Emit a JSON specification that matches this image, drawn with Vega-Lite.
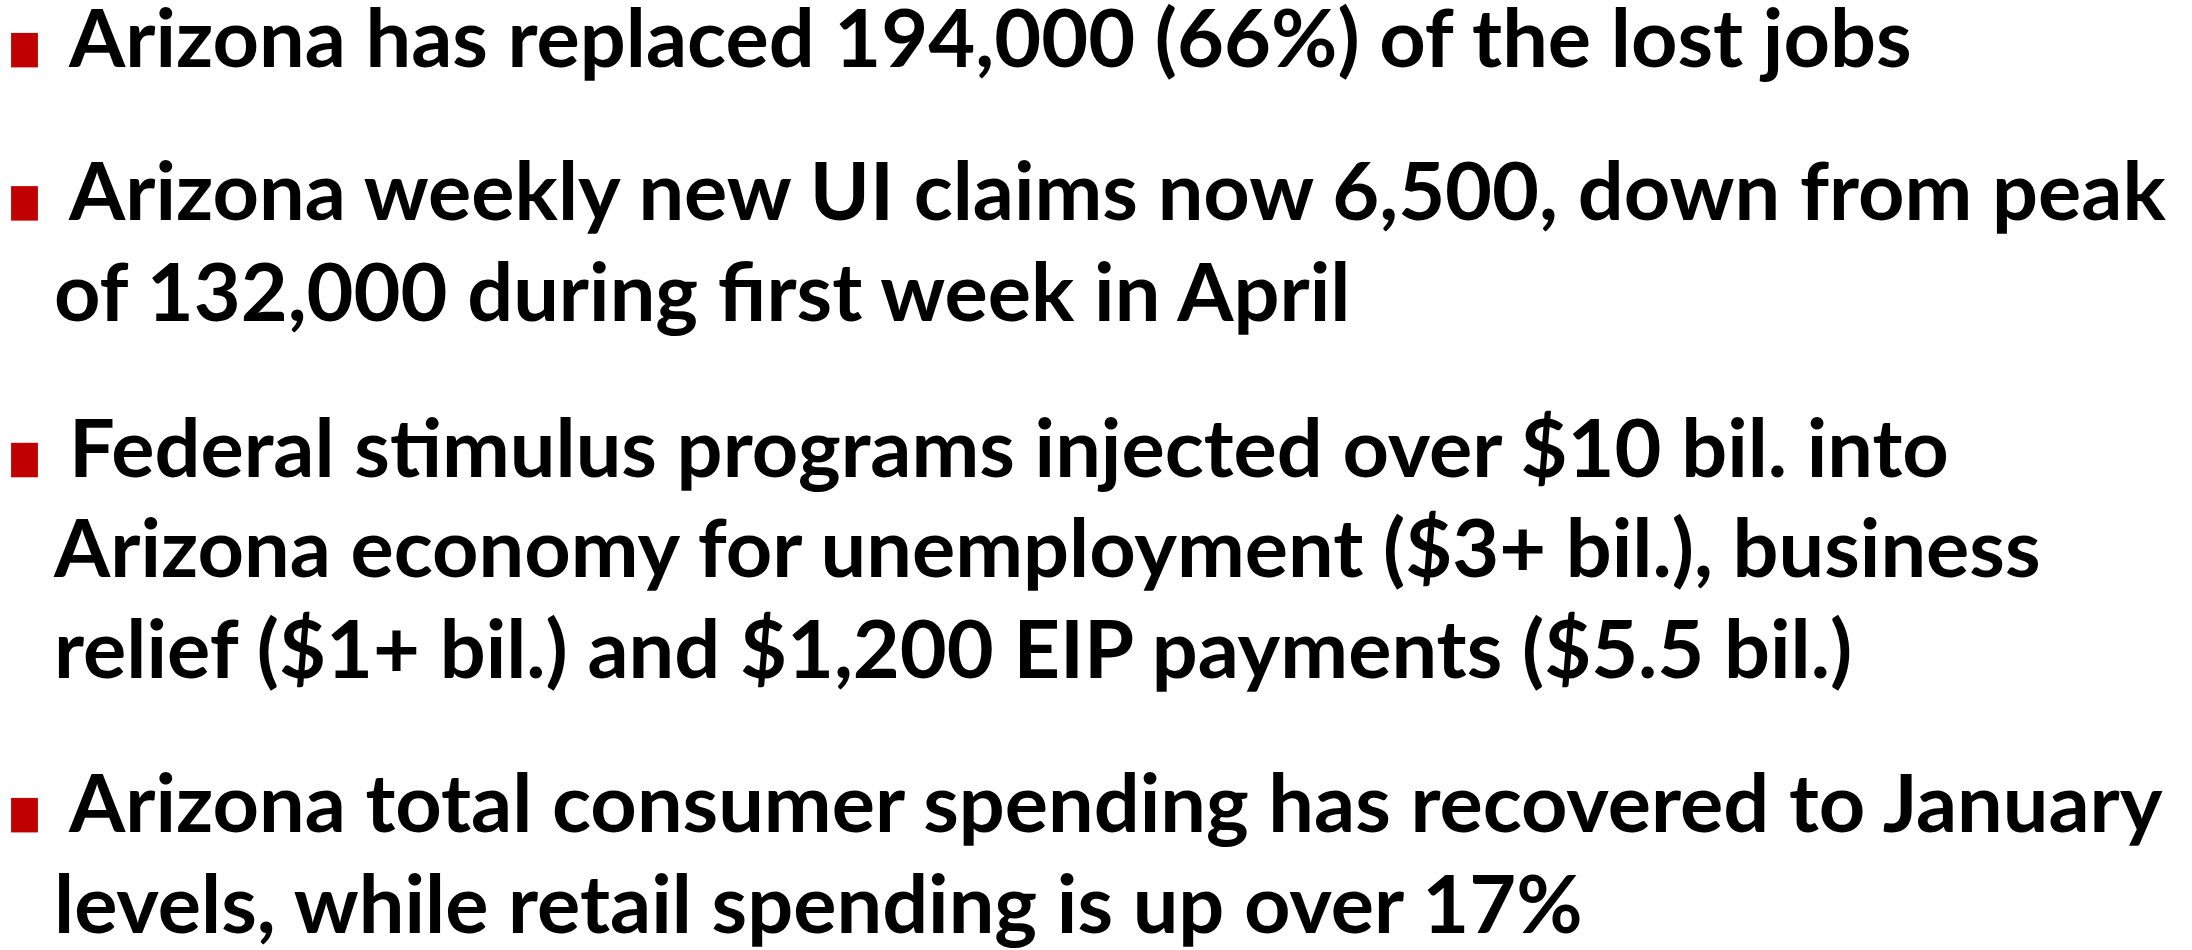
{
  "$schema": "https://vega.github.io/schema/vega-lite/v6.json",
  "autosize": {"type": "fit", "contains": "padding"},
  "width": 2192,
  "height": 950,
  "padding": 0,
  "background": "#ffffff",
  "config": {"view": {"stroke": null}},
  "data": {
    "values": [
      {"row": 0, "bullet": true, "text": "Arizona has replaced 194,000 (66%) of the lost jobs"},
      {"row": 1.51, "bullet": true, "text": "Arizona weekly new UI claims now 6,500, down from peak"},
      {"row": 2.51, "bullet": false, "text": "of 132,000 during first week in April"},
      {"row": 4.04, "bullet": true, "text": "Federal stimulus programs injected over $10 bil. into"},
      {"row": 5.03, "bullet": false, "text": "Arizona economy for unemployment ($3+ bil.), business"},
      {"row": 6.03, "bullet": false, "text": "relief ($1+ bil.) and $1,200 EIP payments ($5.5 bil.)"},
      {"row": 7.54, "bullet": true, "text": "Arizona total consumer spending has recovered to January"},
      {"row": 8.54, "bullet": false, "text": "levels, while retail spending is up over 17%"}
    ]
  },
  "encoding": {
    "y": {"field": "row", "type": "quantitative", "axis": null,
      "scale": {"domain": [-0.657, 8.657], "reverse": true, "nice": false, "zero": false}}
  },
  "layer": [
    {
      "transform": [{"filter": "datum.bullet"}],
      "mark": {"type": "point", "filled": true, "color": "#C00000", "opacity": 1,
        "shape": "M-1,-1.286H1V1.286H-1Z", "size": 720, "strokeWidth": 0},
      "encoding": {
        "x": {"datum": 24.5, "type": "quantitative", "axis": null,
          "scale": {"domain": [0, 2192], "nice": false, "zero": false}},
        "yOffset": {"value": -16.5}
      }
    },
    {
      "transform": [{"filter": "datum.bullet"}],
      "mark": {"type": "text", "align": "left", "baseline": "alphabetic",
        "font": "Lato", "fontWeight": "bold", "fontSize": 81, "color": "#000000"},
      "encoding": {
        "x": {"datum": 69, "type": "quantitative", "axis": null,
          "scale": {"domain": [0, 2192], "nice": false, "zero": false}},
        "text": {"field": "text"}
      }
    },
    {
      "transform": [{"filter": "!datum.bullet"}],
      "mark": {"type": "text", "align": "left", "baseline": "alphabetic",
        "font": "Lato", "fontWeight": "bold", "fontSize": 81, "color": "#000000"},
      "encoding": {
        "x": {"datum": 54, "type": "quantitative", "axis": null,
          "scale": {"domain": [0, 2192], "nice": false, "zero": false}},
        "text": {"field": "text"}
      }
    }
  ]
}
